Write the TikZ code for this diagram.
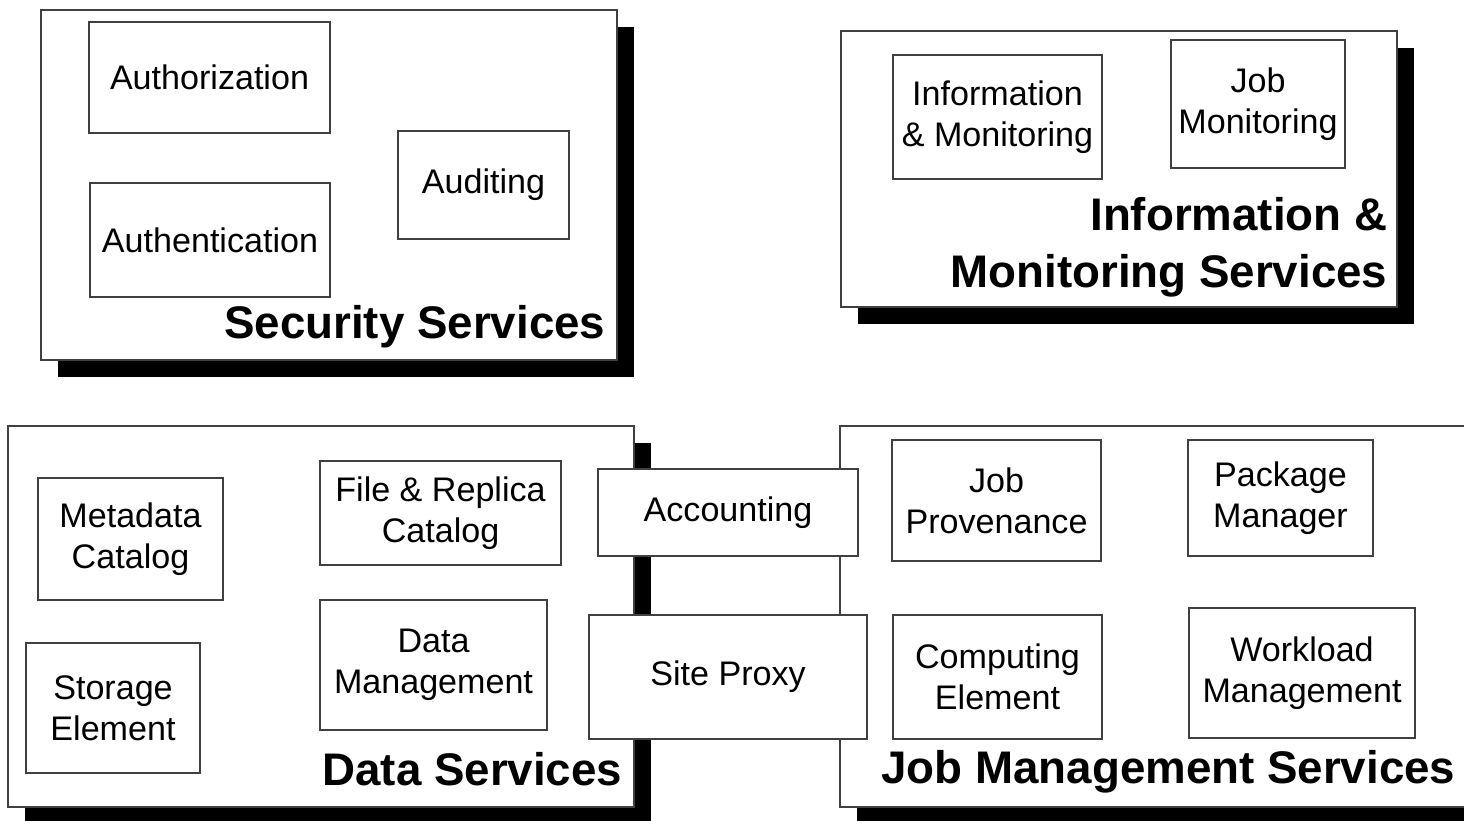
\documentclass[tikz,border=0pt]{standalone}
\usepackage{fontspec}
\setmainfont{Liberation Sans}
\usetikzlibrary{shadows}

\tikzset{
  group/.style={rectangle,draw=black!75,line width=0.5pt,fill=white,inner sep=0pt,
    drop shadow={shadow xshift=0.17cm,shadow yshift=-0.17cm,fill=black,opacity=1}},
  service/.style={rectangle,draw=black!75,line width=0.5pt,fill=white,inner sep=0pt,
    align=center,font=\fontsize{9.7}{11.7}\selectfont},
  grouplabel/.style={inner sep=0pt,align=right,font=\fontsize{13}{16.2}\selectfont\bfseries}
}

\begin{document}
\begin{tikzpicture}
\useasboundingbox (0,0) rectangle (14.64,-8.20);

% security
\path (3.29,-1.85) node[group,minimum width=5.76cm,minimum height=3.50cm] (security) {};
\path (2.095,-0.775) node[service,minimum width=2.41cm,minimum height=1.11cm] (authz) {Authorization};
\path (2.10,-2.40) node[service,minimum width=2.40cm,minimum height=1.14cm] (authn) {Authentication};
\path (4.835,-1.85) node[service,minimum width=1.71cm,minimum height=1.08cm] (audit) {Auditing};
\path (6.06,-3.38) node[grouplabel,anchor=base east] (securitylbl) {Security Services};

% information & monitoring
\path (11.19,-1.69) node[group,minimum width=5.56cm,minimum height=2.76cm] (infomon) {};
\path (9.975,-1.17) node[service,minimum width=2.09cm,minimum height=1.24cm] (infomonsvc) {Information\\\& Monitoring};
\path (12.58,-1.04) node[service,minimum width=1.74cm,minimum height=1.28cm] (jobmon) {Job\\Monitoring};
\path (13.88,-2.87) node[grouplabel,anchor=base east] (infomonlbl) {Information \&\\Monitoring Services};

% data
\path (3.21,-6.165) node[group,minimum width=6.26cm,minimum height=3.81cm] (data) {};
\path (1.305,-5.39) node[service,minimum width=1.85cm,minimum height=1.22cm] (metadata) {Metadata\\Catalog};
\path (4.405,-5.13) node[service,minimum width=2.41cm,minimum height=1.04cm] (replica) {File \& Replica\\Catalog};
\path (1.13,-7.08) node[service,minimum width=1.74cm,minimum height=1.30cm] (storage) {Storage\\Element};
\path (4.335,-6.65) node[service,minimum width=2.27cm,minimum height=1.30cm] (datamgmt) {Data\\Management};
\path (6.23,-7.85) node[grouplabel,anchor=base east] (datalbl) {Data Services};

% job management
\path (11.60,-6.165) node[group,minimum width=6.40cm,minimum height=3.81cm] (jobs) {};
\path (9.965,-5.005) node[service,minimum width=2.09cm,minimum height=1.21cm] (provenance) {Job\\Provenance};
\path (12.805,-4.98) node[service,minimum width=1.85cm,minimum height=1.16cm] (packages) {Package\\Manager};
\path (9.975,-6.77) node[service,minimum width=2.09cm,minimum height=1.24cm] (computing) {Computing\\Element};
\path (13.02,-6.73) node[service,minimum width=2.26cm,minimum height=1.30cm] (workload) {Workload\\Management};
\path (14.56,-7.83) node[grouplabel,anchor=base east] (jobslbl) {Job Management Services};

% shared
\path (7.28,-5.125) node[service,minimum width=2.60cm,minimum height=0.87cm] (accounting) {Accounting};
\path (7.28,-6.77) node[service,minimum width=2.78cm,minimum height=1.24cm] (siteproxy) {Site Proxy};
\end{tikzpicture}
\end{document}
